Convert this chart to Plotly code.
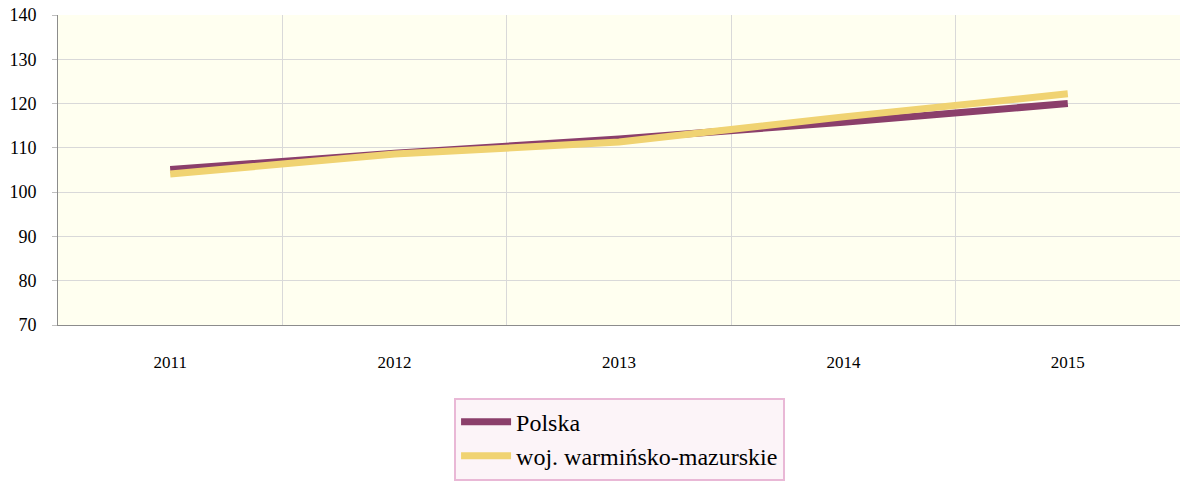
import plotly.graph_objects as go

years = ["2011", "2012", "2013", "2014", "2015"]
polska = [105.1, 108.8, 112.0, 115.8, 120.0]
warm_maz = [104.1, 108.6, 111.3, 117.0, 122.2]

y_ticks = [70, 80, 90, 100, 110, 120, 130, 140]

SERIF = "Liberation Serif, Times New Roman, serif"

fig = go.Figure()

fig.add_trace(
    go.Scatter(
        x=years,
        y=polska,
        mode="lines",
        line=dict(color="#8b3f6b", width=7),
        name="Polska",
    )
)
fig.add_trace(
    go.Scatter(
        x=years,
        y=warm_maz,
        mode="lines",
        line=dict(color="#f0d372", width=7),
        name="woj. warmińsko-mazurskie",
    )
)

fig.update_layout(
    width=1180,
    height=481,
    margin=dict(l=58, r=0, t=15, b=150),
    paper_bgcolor="white",
    plot_bgcolor="#fffff0",
    font=dict(family=SERIF, size=17, color="#000"),
    showlegend=True,
    legend=dict(
        x=0.353,
        y=-0.234,
        xanchor="left",
        yanchor="top",
        bgcolor="#fcf4f8",
        bordercolor="#e9b8d6",
        borderwidth=2,
        font=dict(family=SERIF, size=24, color="#000"),
        tracegroupgap=0,
        itemwidth=50,
    ),
)

fig.update_xaxes(
    type="category",
    tickson="boundaries",
    range=[-0.5, 4.5],
    showgrid=True,
    gridcolor="#d9d9d9",
    gridwidth=1,
    showline=True,
    linecolor="#8c8c8c",
    linewidth=1,
    ticks="",
    tickfont=dict(family=SERIF, size=17, color="#000"),
    ticklabelstandoff=22,
    zeroline=False,
)
fig.update_yaxes(
    range=[70, 140],
    tickvals=y_ticks,
    showgrid=True,
    gridcolor="#d9d9d9",
    gridwidth=1,
    showline=True,
    linecolor="#8c8c8c",
    linewidth=1,
    ticks="outside",
    ticklen=5,
    tickcolor="#bfbfbf",
    tickfont=dict(family=SERIF, size=18, color="#000"),
    ticklabelstandoff=12,
    zeroline=False,
)

fig.write_html(
    "out.html",
    config={"displayModeBar": False},
    post_script="document.body.style.margin='0';",
)
